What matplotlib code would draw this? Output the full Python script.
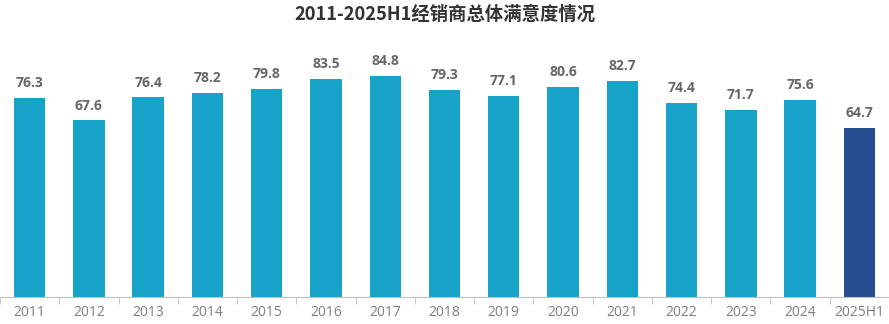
import matplotlib.pyplot as plt

years = ['2011', '2012', '2013', '2014', '2015', '2016', '2017', '2018',
         '2019', '2020', '2021', '2022', '2023', '2024', '2025H1']
scores = [76.3, 67.6, 76.4, 78.2, 79.8, 83.5, 84.8, 79.3,
          77.1, 80.6, 82.7, 74.4, 71.7, 75.6, 64.7]

plt.rcParams['font.family'] = ['Noto Sans CJK SC', 'DejaVu Sans']

fig = plt.figure(figsize=(8.89, 3.24), dpi=100)
ax = fig.add_axes([0.0, 0.0833, 1.0, 0.806])

colors = ['#17A2C8'] * (len(years) - 1) + ['#244E8F']
x = list(range(len(years)))
bars = ax.bar(x, scores, width=0.53, color=colors)

for xi, v in zip(x, scores):
    ax.text(xi, v + 3, f'{v:.1f}', ha='center', va='bottom',
            fontsize=10, fontweight='bold', color='#666666',
            family=['Open Sans', 'DejaVu Sans'])

ax.set_xlim(-0.5, len(years) - 0.5)
ax.set_ylim(0, 100)
ax.set_yticks([])
for s in ['top', 'right', 'left']:
    ax.spines[s].set_visible(False)
ax.spines['bottom'].set_color('#BFBFBF')

ax.set_xticks(x)
ax.set_xticklabels(years, fontsize=10, color='#7F7F7F',
                   family=['Open Sans', 'DejaVu Sans'])
ax.tick_params(axis='x', length=0, pad=6)
ax.set_xticks([i - 0.5 for i in range(len(years) + 1)], minor=True)
ax.tick_params(axis='x', which='minor', length=5, color='#BFBFBF')

fig.suptitle('2011-2025H1经销商总体满意度情况', y=0.985, fontsize=13.2,
             fontweight='bold', color='#333333')

plt.savefig('out.png', dpi=100)
